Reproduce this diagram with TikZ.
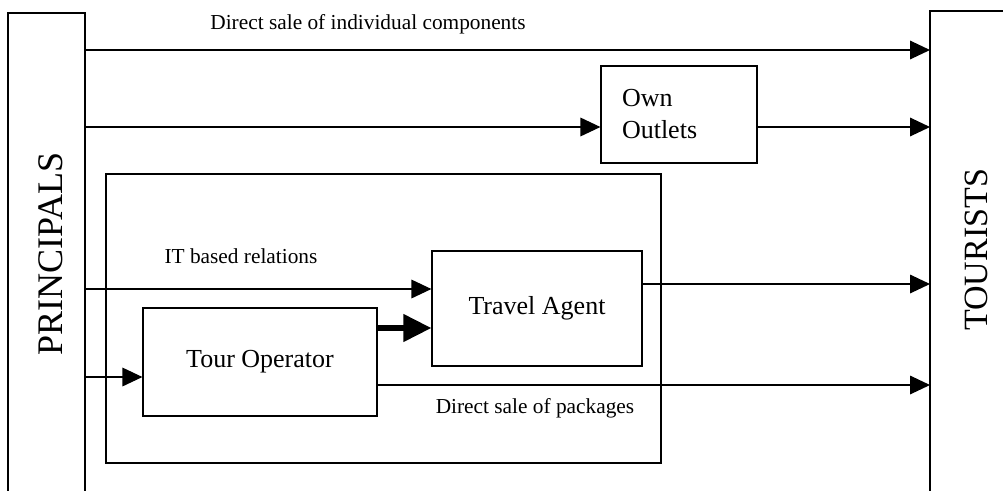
\documentclass[tikz,border=0pt]{standalone}
\usepackage{fontspec}
\setmainfont{Liberation Serif}
\usetikzlibrary{arrows.meta}

\begin{document}
\begin{tikzpicture}[x=0.75pt,y=-0.75pt,line width=0.9pt,
  arr/.style={-{Triangle[length=15pt,width=14pt]}},
  bigarr/.style={line width=4pt,-{Triangle[length=21pt,width=20pt]}},
  box/.style={draw,rectangle,font=\fontsize{19.5}{24}\selectfont},
  lbl/.style={font=\fontsize{16}{19}\selectfont}]

  \clip (0,0) rectangle (1003,490);

  \draw (8,500) -- (8,13) -- (85,13) -- (85,500);
  \draw (930,500) -- (930,11) -- (1010,11);
  \node[rotate=90,font=\fontsize{27}{30}\selectfont] (principals) at (51,254) {PRINCIPALS};
  \node[rotate=90,font=\fontsize{25.5}{28}\selectfont] (tourists) at (976,250) {TOURISTS};
  \coordinate (pbar) at (85,0);
  \coordinate (tbar) at (930,0);

  \draw (106,174) rectangle (661,463);

  \node[box,minimum height=72.75pt,text width=85.5pt,align=left,inner xsep=15.75pt]
    (outlets) at (679,114.5) {Own\\Outlets};
  \node[box,minimum width=157.5pt,minimum height=86.25pt] (agent) at (537,308.5) {Travel Agent};
  \node[box,minimum width=175.5pt,minimum height=81pt] (operator) at (260,362) {Tour Operator};

  \coordinate (r1) at (0,50);
  \coordinate (r2) at (0,127);
  \coordinate (r3) at (0,289);
  \coordinate (r4) at (0,284);
  \coordinate (r5) at (0,328);
  \coordinate (r6) at (0,377);
  \coordinate (r7) at (0,385);

  \draw[arr] (pbar |- r1) -- (tbar |- r1);
  \draw[arr] (pbar |- r2) -- (outlets.west |- r2);
  \draw[arr] (outlets.east |- r2) -- (tbar |- r2);
  \draw[arr] (pbar |- r3) -- (agent.west |- r3);
  \draw[arr] (agent.east |- r4) -- (tbar |- r4);
  \draw[bigarr] (operator.east |- r5) -- (agent.west |- r5);
  \draw[arr] (pbar |- r6) -- (operator.west |- r6);
  \draw[arr] (operator.east |- r7) -- (tbar |- r7);

  \node[lbl] (lcomp) at (368,24) {Direct sale of individual components};
  \node[lbl] (lit) at (241,256) {IT based relations};
  \node[lbl] (lpack) at (535,408) {Direct sale of packages};

\end{tikzpicture}
\end{document}
